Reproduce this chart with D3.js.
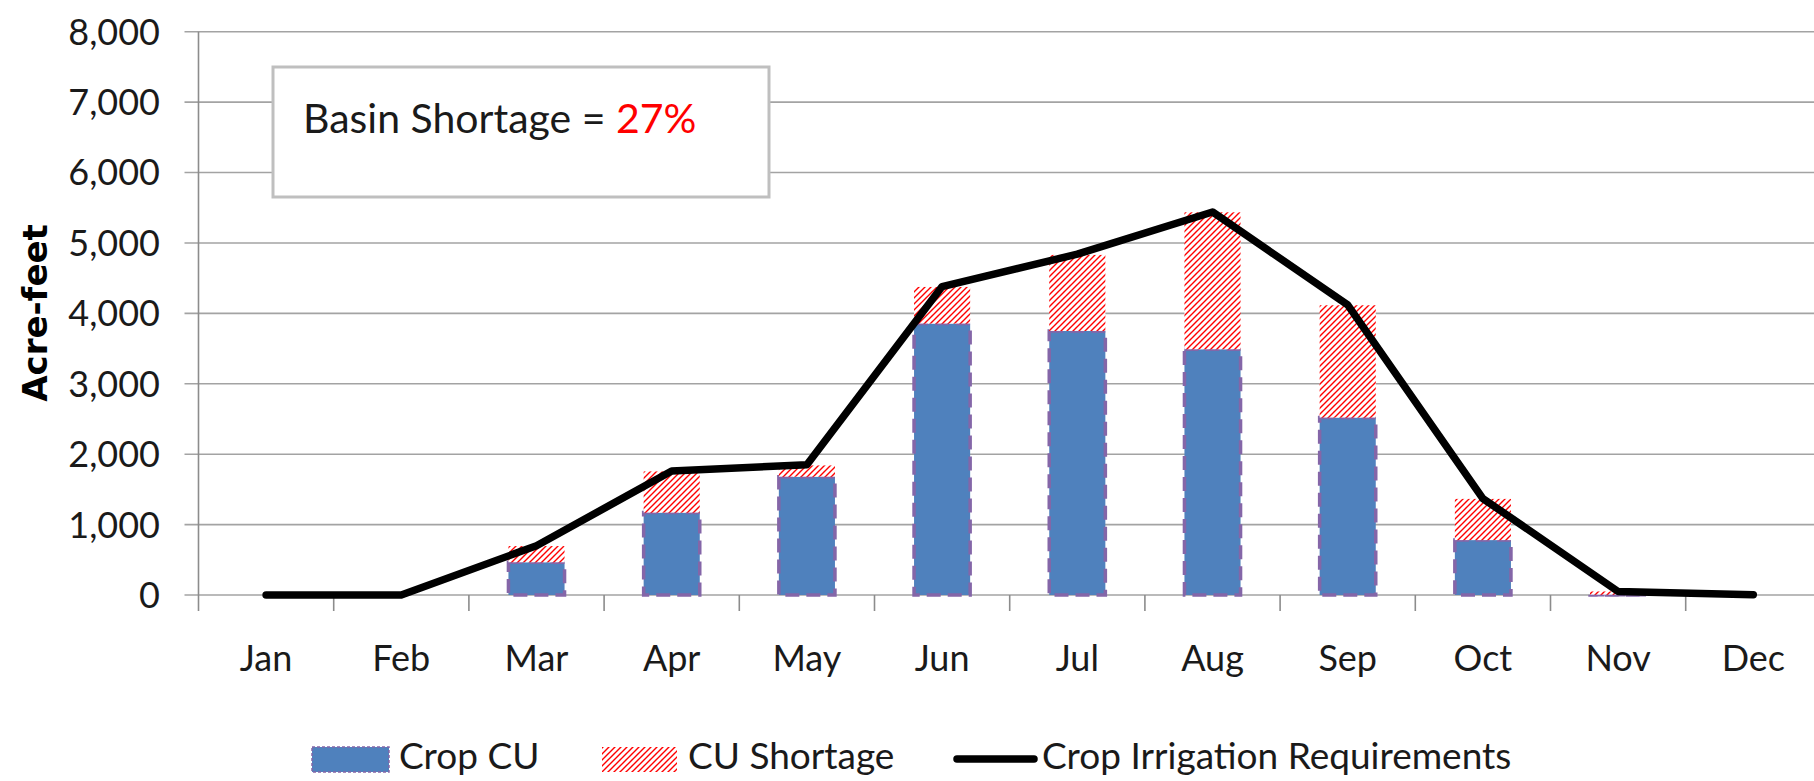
<!DOCTYPE html>
<html>
<head>
<meta charset="utf-8">
<script src="https://cdnjs.cloudflare.com/ajax/libs/d3/7.8.5/d3.min.js"></script>
<style>
  body { margin: 0; background: white; }
  #viz_area { width: 1814px; height: 781px; overflow: hidden; }
</style>
</head>
<body>
<div id="viz_area"></div>
<script>
// chart values
var months = ["Jan", "Feb", "Mar", "Apr", "May", "Jun", "Jul", "Aug", "Sep", "Oct", "Nov", "Dec"]
var cropCU = [0, 0, 465, 1170, 1680, 3855, 3750, 3490, 2520, 780, 5, 0]
var cuShortage = [0, 0, 230, 585, 160, 520, 1080, 1945, 1595, 585, 45, 0]
var irrigationReq = [0, 0, 700, 1760, 1850, 4380, 4840, 5440, 4120, 1370, 50, 5]
var yTicks = [0, 1000, 2000, 3000, 4000, 5000, 6000, 7000, 8000]
var legendNames = ["Crop CU", "CU Shortage", "Crop Irrigation Requirements"]
var basinShortage = "27%"

var width = 1814
var height = 781

var svg = d3.select("#viz_area")
  .append("svg")
  .attr("width", width)
  .attr("height", height)
  .style("background-color", "white");

var margin = {
  top: 31.7,
  left: 198.5,
  bottom: 186,
};

var fontMain = "Lato, 'Open Sans', sans-serif"

var scX = d3.scaleBand()
  .domain(months)
  .range([margin.left, margin.left + 12 * 135.2])
  .padding(0)

var scY = d3.scaleLinear()
  .domain([0, 8000])
  .range([height - margin.bottom, margin.top])

var barW = scX.bandwidth() * 0.415

// hatch pattern for the shortage part
var defs = svg.append("defs")
defs.append("pattern")
  .attr("id", "hatch")
  .attr("patternUnits", "userSpaceOnUse")
  .attr("width", 6)
  .attr("height", 6)
  .call(p => p.append("rect").attr("width", 6).attr("height", 6).attr("fill", "white"))
  .append("path")
  .attr("d", "M0,6 L6,0 M-1,1 L1,-1 M5,7 L7,5")
  .attr("stroke", "#ff0000")
  .attr("stroke-width", 1.4)

function makeYGrid(svg) {
  svg.append("g")
    .attr("stroke", "#a3a3a3")
    .attr("stroke-width", 1.6)
    .selectAll("line")
    .data(yTicks)
    .enter().append("line")
    .attr("x1", margin.left - 14)
    .attr("x2", width)
    .attr("y1", d => scY(d))
    .attr("y2", d => scY(d))
}

function yAxis(svg) {
  svg.append("line")
    .attr("x1", margin.left).attr("x2", margin.left)
    .attr("y1", scY(8000)).attr("y2", scY(0))
    .attr("stroke", "#8c8c8c")
    .attr("stroke-width", 1.6)

  svg.append("g")
    .selectAll("text")
    .data(yTicks)
    .enter().append("text")
    .attr("x", 160)
    .attr("y", d => scY(d))
    .attr("dy", "0.36em")
    .attr("text-anchor", "end")
    .style("font-family", fontMain)
    .style("font-size", "36px")
    .attr("fill", "#1a1a1a")
    .text(d => d3.format(",")(d))

  svg.append("text")
    .attr("transform", "translate(46.5," + 313 + ") rotate(-90)")
    .attr("text-anchor", "middle")
    .style("font-family", "'DejaVu Sans', sans-serif")
    .style("font-weight", "bold")
    .style("font-size", "34px")
    .attr("fill", "black")
    .text("Acre-feet")
}

function xAxis(svg) {
  var g = svg.append("g")
    .attr("transform", `translate(0,${scY(0)})`)
    .call(d3.axisBottom(scX).tickSize(0).tickFormat(""))
  g.select(".domain").remove()

  g.selectAll(".tickline")
    .data(months)
    .enter().append("line")
    .attr("x1", d => scX(d)).attr("x2", d => scX(d))
    .attr("y1", 0).attr("y2", 16)
    .attr("stroke", "#8c8c8c")
    .attr("stroke-width", 1.6)

  g.selectAll(".lbl")
    .data(months)
    .enter().append("text")
    .attr("x", d => scX(d) + scX.bandwidth() / 2)
    .attr("y", 76)
    .attr("text-anchor", "middle")
    .style("font-family", fontMain)
    .style("font-size", "36px")
    .attr("fill", "#1a1a1a")
    .text(d => d)
}

function drawBars(svg) {
  var g = svg.append("g")
  g.selectAll(".cu")
    .data(months)
    .enter().append("rect")
    .attr("x", d => scX(d) + (scX.bandwidth() - barW) / 2)
    .attr("width", barW)
    .attr("y", (d, i) => scY(cropCU[i]))
    .attr("height", (d, i) => scY(0) - scY(cropCU[i]))
    .attr("fill", "#4f81bd")
    .attr("stroke", (d, i) => cropCU[i] > 0 ? "#8466a8" : "none")
    .attr("stroke-width", 3.5)
    .attr("stroke-dasharray", "14,7")

  g.selectAll(".short")
    .data(months)
    .enter().append("rect")
    .attr("x", d => scX(d) + (scX.bandwidth() - barW) / 2)
    .attr("width", barW)
    .attr("y", (d, i) => scY(cropCU[i] + cuShortage[i]))
    .attr("height", (d, i) => scY(cropCU[i]) - scY(cropCU[i] + cuShortage[i]))
    .attr("fill", "url(#hatch)")
}

var makeLine = d3.line()
  .x((d, i) => scX(months[i]) + scX.bandwidth() / 2)
  .y(d => scY(d))

function drawLine(svg) {
  svg.append("path")
    .attr("fill", "none")
    .attr("stroke", "black")
    .attr("stroke-width", 7.5)
    .attr("stroke-linejoin", "round")
    .attr("stroke-linecap", "round")
    .attr("d", makeLine(irrigationReq))
}

function addNote(svg) {
  svg.append("rect")
    .attr("x", 273)
    .attr("y", 67)
    .attr("width", 496)
    .attr("height", 130)
    .attr("fill", "white")
    .attr("stroke", "#bfbfbf")
    .attr("stroke-width", 3)

  var t = svg.append("text")
    .attr("x", 303)
    .attr("y", 133)
    .style("font-family", fontMain)
    .style("font-size", "41px")
    .attr("fill", "#1a1a1a")
  t.append("tspan").text("Basin Shortage = ")
  t.append("tspan").attr("fill", "#ff0000").text(basinShortage)
}

function addLegend(svg) {
  var g = svg.append("g").attr("id", "legend")
  var ly = 769

  g.append("rect")
    .attr("x", 312).attr("y", 747)
    .attr("width", 77).attr("height", 25)
    .attr("fill", "#4f81bd")
    .attr("stroke", "#8466a8")
    .attr("stroke-width", 1.5)
    .attr("stroke-dasharray", "3,2")

  g.append("rect")
    .attr("x", 602).attr("y", 747)
    .attr("width", 75).attr("height", 25)
    .attr("fill", "url(#hatch)")

  g.append("line")
    .attr("x1", 957).attr("x2", 1034)
    .attr("y1", 759).attr("y2", 759)
    .attr("stroke", "black")
    .attr("stroke-width", 7.5)
    .attr("stroke-linecap", "round")

  g.selectAll("text")
    .data(legendNames)
    .enter().append("text")
    .attr("x", (d, i) => [399, 688, 1042][i])
    .attr("y", ly)
    .style("font-family", fontMain)
    .style("font-size", "37px")
    .attr("fill", "#1a1a1a")
    .text(d => d)
}

makeYGrid(svg)
yAxis(svg)
xAxis(svg)
drawBars(svg)
drawLine(svg)
addNote(svg)
addLegend(svg)
</script>
</body>
</html>
